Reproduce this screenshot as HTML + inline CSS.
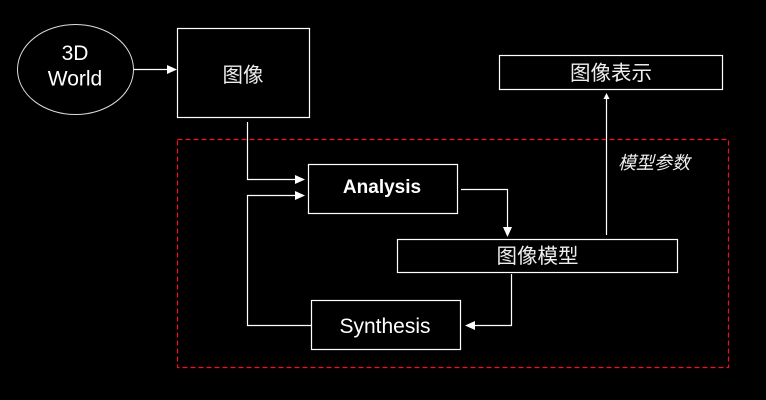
<!DOCTYPE html>
<html><head><meta charset="utf-8"><style>
html,body{margin:0;padding:0;background:#000;width:766px;height:400px;overflow:hidden}
svg{display:block}
text{fill:#fff;font-family:"Liberation Sans","Noto Sans CJK SC",sans-serif;text-anchor:middle}
.c{font-family:"Liberation Sans","WenQuanYi Zen Hei",sans-serif;font-size:20.5px;fill:#eee}
</style></head><body>
<svg width="766" height="400" viewBox="0 0 766 400" xmlns="http://www.w3.org/2000/svg">
<rect width="766" height="400" fill="#000"/>
<rect x="177.5" y="139.5" width="551" height="228" fill="none" stroke="#f0102c" stroke-width="1.2" stroke-dasharray="5 3"/>
<g fill="none" stroke="#fff" stroke-width="1.2">
<ellipse cx="75.5" cy="69.5" rx="58" ry="45" stroke="#ddd" stroke-width="1"/>
<rect x="177.5" y="28.5" width="132" height="89"/>
<rect x="499.5" y="55.5" width="223" height="34"/>
<rect x="308.5" y="164.5" width="149" height="49"/>
<rect x="397.5" y="239.5" width="280" height="33"/>
<rect x="311.5" y="300.5" width="149" height="49"/>
<path d="M134 69.5H168"/>
<path d="M247.5 122V179.5H296"/>
<path d="M296 195.5H247.5V325.5H311"/>
<path d="M461 189.5H507.5V227"/>
<path d="M511.5 274V325.5H474"/>
<path d="M606.5 235V98"/>
</g>
<g fill="#fff">
<path d="M167 65L177 69.5L167 74Z"/>
<path d="M295 175L305 179.5L295 184Z"/>
<path d="M295 191L305 195.5L295 200Z"/>
<path d="M503 227H512L507.5 237Z"/>
<path d="M475 321V330L465 325.5Z"/>
<path d="M603.500 99H609.500L606.5 93Z"/>
</g>
<text x="75" y="60" font-size="21">3D</text>
<text x="75" y="85.500" font-size="21">World</text>
<text class="c" x="243" y="82">图像</text>
<text class="c" x="611" y="80">图像表示</text>
<text class="c" x="537.500" y="263">图像模型</text>
<text class="c" x="654" y="169" style="font-size:18px;font-style:italic">模型参数</text>
<text x="382" y="193" font-size="19" font-weight="bold">Analysis</text>
<text x="385" y="333" font-size="21">Synthesis</text>
</svg>
</body></html>
